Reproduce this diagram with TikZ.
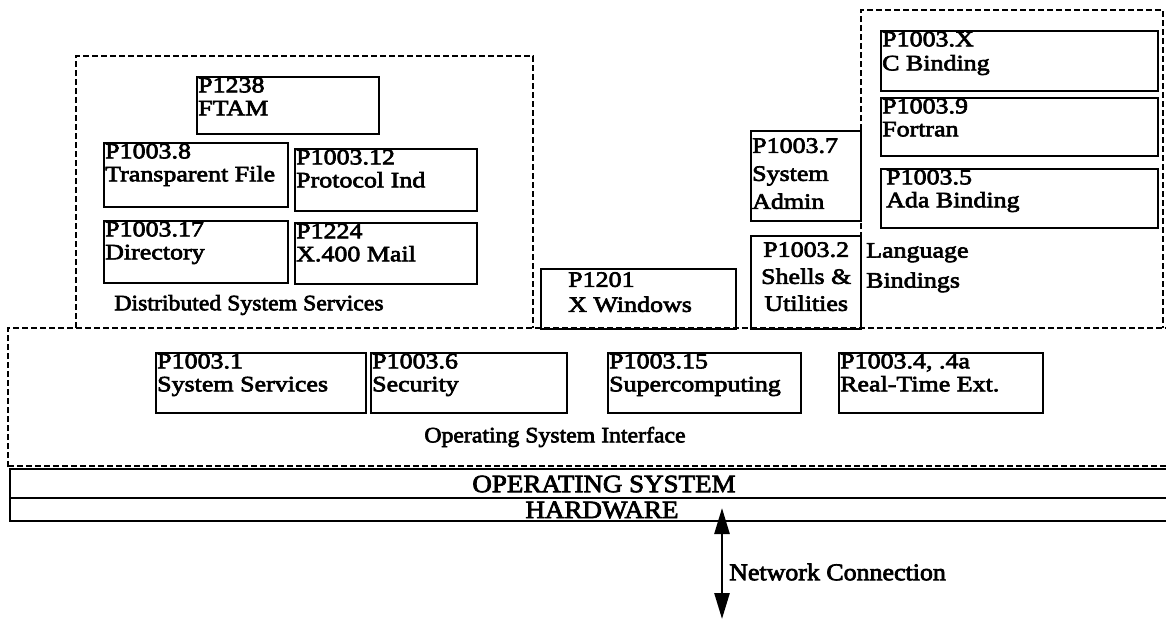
\documentclass[tikz,border=0pt]{standalone}
\usepackage{fontspec}
\setmainfont{Liberation Serif}[FakeStretch=1.08,FakeBold=3]
\newfontfamily\boxfam{Liberation Serif}[FakeStretch=1.18,FakeBold=3]
\usetikzlibrary{arrows.meta}
\newcommand{\boxfont}{\boxfam\fontsize{22}{23}\selectfont}
\begin{document}
\begin{tikzpicture}[x=1pt,y=-1pt,
  box/.style={draw, line width=2.4pt, inner sep=0pt, anchor=north west},
  dbox/.style={draw, line width=2.4pt, dash pattern=on 6pt off 3pt},
  txt/.style={anchor=north west, align=left, inner xsep=2pt, inner ysep=1.5pt, font=\boxfont},
  lbl/.style={inner sep=0pt, font=\fontsize{22}{22}\selectfont},
  net/.style={line width=2.6pt, {Triangle[length=26pt,width=15pt]}-{Triangle[length=26pt,width=15pt]}}
]
\useasboundingbox (0,0) rectangle (1166,619);
% dashed group outlines
\draw[dbox] (76,328) -- (76,56) -- (533,56) -- (533,328);
\draw[dbox] (861,328) -- (861,10) -- (1163,10) -- (1163,328);
\draw[dbox] (8,467) -- (8,328) -- (1170,328);
\draw[dbox] (8,466) -- (1170,466);
% Distributed system services
\node[box, minimum width=182, minimum height=57] (ftam) at (196,76) {};
\node[txt] (ftamT) at (ftam.north west) {P1238\\FTAM};
\node[box, minimum width=184, minimum height=64] (tfile) at (103,142) {};
\node[txt] (tfileT) at (tfile.north west) {P1003.8\\Transparent File};
\node[box, minimum width=182, minimum height=62] (prot) at (294,148) {};
\node[txt] (protT) at (prot.north west) {P1003.12\\Protocol Ind};
\node[box, minimum width=184, minimum height=62] (dir) at (103,220) {};
\node[txt] (dirT) at (dir.north west) {P1003.17\\Directory};
\node[box, minimum width=182, minimum height=61] (mail) at (294,222) {};
\node[txt] (mailT) at (mail.north west) {P1224\\X.400 Mail};
\node[lbl] (dss) at (249,305) {Distributed System Services};
% X windows, admin, shells
\node[box, minimum width=195, minimum height=60] (xwin) at (540,268) {};
\node[txt, inner xsep=0pt, inner ysep=4pt, font=\boxfam\fontsize{22}{25}\selectfont] (xwinT) at ([xshift=28pt]xwin.north west) {P1201\\X Windows};
\node[box, minimum width=110, minimum height=90] (admin) at (750,130) {};
\node[txt, inner ysep=8pt, font=\boxfam\fontsize{22}{28}\selectfont] (adminT) at (admin.north west) {P1003.7\\System\\Admin};
\node[box, minimum width=110, minimum height=93] (shell) at (750,235) {};
\node[txt, anchor=north, align=center, inner ysep=7pt, font=\boxfam\fontsize{22}{27}\selectfont] (shellT) at (shell.north) {P1003.2\\Shells \&\\Utilities};
% language bindings
\node[box, minimum width=277, minimum height=60] (cb) at (880,30) {};
\node[txt, font=\boxfam\fontsize{22}{24}\selectfont] (cbT) at (cb.north west) {P1003.X\\C Binding};
\node[box, minimum width=277, minimum height=58] (fort) at (880,97) {};
\node[txt] (fortT) at (fort.north west) {P1003.9\\Fortran};
\node[box, minimum width=277, minimum height=59] (ada) at (880,168) {};
\node[txt] (adaT) at ([xshift=4pt]ada.north west) {P1003.5\\Ada Binding};
\node[lbl, anchor=north west, align=left, font=\boxfam\fontsize{22}{30}\selectfont] (lang) at (866,243) {Language\\Bindings};
% operating system interface
\node[box, minimum width=210, minimum height=60] (sys) at (155,352) {};
\node[txt] (sysT) at (sys.north west) {P1003.1\\System Services};
\node[box, minimum width=196, minimum height=60] (sec) at (370,352) {};
\node[txt] (secT) at (sec.north west) {P1003.6\\Security};
\node[box, minimum width=193, minimum height=60] (sup) at (607,352) {};
\node[txt] (supT) at (sup.north west) {P1003.15\\Supercomputing};
\node[box, minimum width=204, minimum height=60] (rt) at (838,352) {};
\node[txt] (rtT) at (rt.north west) {P1003.4, .4a\\Real-Time Ext.};
\node[lbl] (osi) at (555,437) {Operating System Interface};
% OS and hardware
\draw[line width=2.4pt] (1170,469) -- (10,469) -- (10,521) -- (1170,521);
\draw[line width=2.4pt] (10,498) -- (1170,498);
\node[lbl, font=\fontsize{25}{25}\selectfont] (os) at (604,484) {OPERATING SYSTEM};
\node[lbl, font=\fontsize{25}{25}\selectfont] (hw) at (602,510) {HARDWARE};
% network connection
\coordinate (ntop) at (722,508);
\coordinate (nbot) at (722,619);
\draw[net] (nbot) -- (ntop);
\node[lbl, anchor=west, font=\fontsize{24}{24}\selectfont] (netT) at (729,572) {Network Connection};
\end{tikzpicture}
\end{document}
